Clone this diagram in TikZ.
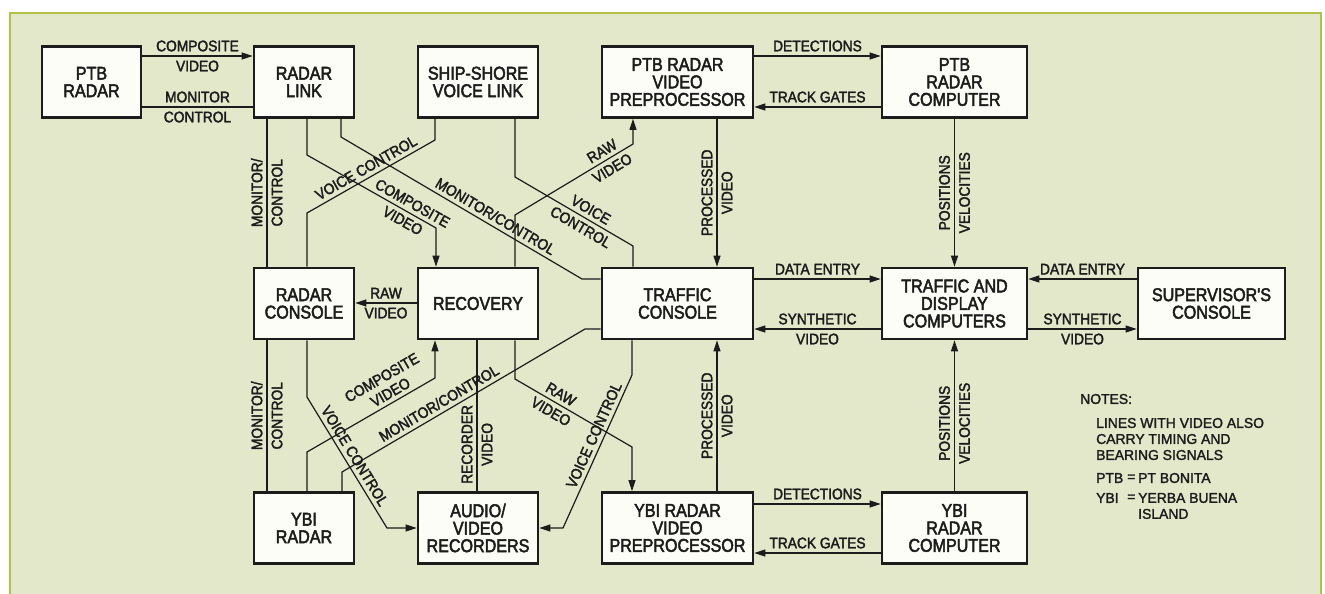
\documentclass[tikz,border=0pt]{standalone}
\usepackage{fontspec}
\usetikzlibrary{arrows.meta}
\newfontfamily\bxfam{Liberation Sans}[FakeStretch=0.87,FakeBold=2.6]
\newfontfamily\lbfam{Liberation Sans}[FakeStretch=0.9,FakeBold=2.2]
\newfontfamily\ntfam{Liberation Sans}[FakeStretch=0.98,FakeBold=1.8]
\newcommand\bxf{\bxfam\fontsize{18.5pt}{17.5pt}\selectfont}
\newcommand\lbf{\lbfam\fontsize{15.3pt}{17pt}\selectfont}
\newcommand\ntf{\ntfam\fontsize{14.2pt}{16pt}\selectfont}
\definecolor{bgc}{RGB}{228,232,202}
\definecolor{framec}{RGB}{178,192,72}
\definecolor{boxc}{RGB}{253,253,247}
\definecolor{inkc}{RGB}{28,28,28}
\tikzset{
  box/.style={draw=inkc, line width=2.6pt, fill=boxc, font=\bxf, text=inkc, align=center, inner sep=0pt, minimum height=71pt},
  lbl/.style={font=\lbf, text=inkc, inner sep=4pt},
  conn/.style={draw=inkc, line width=1.2pt},
  arr/.style={conn, -{Triangle[length=11pt,width=7pt]}},
  vl/.style={lbl, rotate=90, anchor=south},
  vr/.style={lbl, rotate=90, anchor=north},
  note/.style={font=\ntf, text=inkc, inner sep=0pt, anchor=west, align=left},
}
\begin{document}
\begin{tikzpicture}[x=1pt,y=-1pt]
\useasboundingbox (0,0) rectangle (1325,594);
\fill[white] (0,0) rectangle (1325,594);
\draw[framec, line width=2.2pt, fill=bgc] (10,13) rectangle (1321,610);

% boxes
\node[box, minimum width=99pt]  (ptbr) at (91.5,82)   {PTB\\RADAR};
\node[box, minimum width=100pt] (rlink) at (304,82)   {RADAR\\LINK};
\node[box, minimum width=120pt] (ssvl) at (478,82)    {SHIP-SHORE\\VOICE LINK};
\node[box, minimum width=151pt] (ptbp) at (677.5,82)  {PTB RADAR\\VIDEO\\PREPROCESSOR};
\node[box, minimum width=145pt] (ptbc) at (954.5,82)  {PTB\\RADAR\\COMPUTER};
\node[box, minimum width=100pt] (rcon) at (304,303.5) {RADAR\\CONSOLE};
\node[box, minimum width=120pt] (rec) at (478,303.5)  {RECOVERY};
\node[box, minimum width=151pt] (tcon) at (677.5,303.5) {TRAFFIC\\CONSOLE};
\node[box, minimum width=145pt] (tdc) at (954.5,303.5) {TRAFFIC AND\\DISPLAY\\COMPUTERS};
\node[box, minimum width=147pt] (sup) at (1211.5,303.5) {SUPERVISOR'S\\CONSOLE};
\node[box, minimum width=100pt] (ybir) at (304,528)   {YBI\\RADAR};
\node[box, minimum width=120pt] (avr) at (478,528)    {AUDIO/\\VIDEO\\RECORDERS};
\node[box, minimum width=151pt] (ybip) at (677.5,528) {YBI RADAR\\VIDEO\\PREPROCESSOR};
\node[box, minimum width=145pt] (ybic) at (954.5,528) {YBI\\RADAR\\COMPUTER};

% upper connectors
\draw[arr] (ptbr.east |- 0,56) -- node[lbl,above]{COMPOSITE} node[lbl,below]{VIDEO} (rlink.west |- 0,56);
\draw[conn] (ptbr.east |- 0,107) -- node[lbl,above]{MONITOR} node[lbl,below]{CONTROL} (rlink.west |- 0,107);
\draw[conn] (267,0 |- rlink.south) -- node[vl]{MONITOR/} node[vr]{CONTROL} (267,0 |- rcon.north);
\draw[arr] (307,0 |- rlink.south) -- (307,155) -- node[lbl,sloped,pos=.78,above]{COMPOSITE} node[lbl,sloped,pos=.78,below]{VIDEO} (436,228) -- (436,0 |- rec.north);
\draw[conn] (341,0 |- rlink.south) -- (341,137) -- node[lbl,sloped,pos=.62,above]{MONITOR/CONTROL} (582,279) -- (tcon.west |- 0,279);
\draw[conn] (435,0 |- ssvl.south) -- (435,140) -- node[lbl,sloped,above]{VOICE CONTROL} (307,213) -- (307,0 |- rcon.north);
\draw[conn] (515,0 |- ssvl.south) -- (515,177) -- node[lbl,sloped,pos=.6,above]{VOICE} node[lbl,sloped,pos=.6,below]{CONTROL} (633,246) -- (633,0 |- tcon.north);
\draw[arr] (515,0 |- rec.north) -- (515,215) -- node[lbl,sloped,pos=.78,above]{RAW} node[lbl,sloped,pos=.78,below]{VIDEO} (633,144) -- (633,0 |- ptbp.south);
\draw[arr] (717,0 |- ptbp.south) -- node[vl]{PROCESSED} node[vr]{VIDEO} (717,0 |- tcon.north);
\draw[arr] (ptbp.east |- 0,56) -- node[lbl,above]{DETECTIONS} (ptbc.west |- 0,56);
\draw[arr] (ptbc.west |- 0,107) -- node[lbl,above]{TRACK GATES} (ptbp.east |- 0,107);
\draw[arr] (ptbc.south) -- node[vl]{POSITIONS} node[vr]{VELOCITIES} (tdc.north);

% middle connectors
\draw[arr] (rec.west |- 0,303) -- node[lbl,above]{RAW} node[lbl,below]{VIDEO} (rcon.east |- 0,303);
\draw[arr] (tcon.east |- 0,279) -- node[lbl,above]{DATA ENTRY} (tdc.west |- 0,279);
\draw[arr] (tdc.west |- 0,329) -- node[lbl,above]{SYNTHETIC} node[lbl,below]{VIDEO} (tcon.east |- 0,329);
\draw[arr] (sup.west |- 0,279) -- node[lbl,above]{DATA ENTRY} (tdc.east |- 0,279);
\draw[arr] (tdc.east |- 0,329) -- node[lbl,above]{SYNTHETIC} node[lbl,below]{VIDEO} (sup.west |- 0,329);

% lower connectors
\draw[conn] (267,0 |- rcon.south) -- node[vl]{MONITOR/} node[vr]{CONTROL} (267,0 |- ybir.north);
\draw[arr] (307,0 |- ybir.north) -- (307,452) -- node[lbl,sloped,pos=.69,above,align=center]{COMPOSITE\\VIDEO} (435,378) -- (435,0 |- rec.south);
\draw[conn] (342,0 |- ybir.north) -- (342,472) -- node[lbl,sloped,pos=.42,above]{MONITOR/CONTROL} (585,329) -- (tcon.west |- 0,329);
\draw[arr] (307,0 |- rcon.south) -- (307,397) -- node[lbl,sloped,pos=.49,above]{VOICE CONTROL} (387,528) -- (avr.west |- 0,528);
\draw[conn] (477,0 |- rec.south) -- node[vl,pos=.69]{RECORDER} node[vr,pos=.69]{VIDEO} (477,0 |- avr.north);
\draw[arr] (515,0 |- rec.south) -- (515,379) -- node[lbl,sloped,pos=.35,above]{RAW} node[lbl,sloped,pos=.35,below]{VIDEO} (632,447) -- (632,0 |- ybip.north);
\draw[arr] (632,0 |- tcon.south) -- (632,375) -- node[lbl,sloped,pos=.42,above]{VOICE CONTROL} (563,528) -- (avr.east |- 0,528);
\draw[arr] (717,0 |- ybip.north) -- node[vl]{PROCESSED} node[vr]{VIDEO} (717,0 |- tcon.south);
\draw[arr] (ybip.east |- 0,504) -- node[lbl,above]{DETECTIONS} (ybic.west |- 0,504);
\draw[arr] (ybic.west |- 0,553) -- node[lbl,above]{TRACK GATES} (ybip.east |- 0,553);
\draw[arr] (ybic.north) -- node[vl,pos=.45]{POSITIONS} node[vr,pos=.45]{VELOCITIES} (tdc.south);

% notes
\node[note] (n1) at (1080,399) {NOTES:};
\node[note] (n2) at (1096,439) {LINES WITH VIDEO ALSO\\CARRY TIMING AND\\BEARING SIGNALS};
\node[note] (n3) at (1096,478) {PTB};
\node[note] (n4) at (1127,478) {=};
\node[note] (n5) at (1138,478) {PT BONITA};
\node[note] (n6) at (1096,498) {YBI};
\node[note] (n7) at (1127,498) {=};
\node[note] (n8) at (1138,506) {YERBA BUENA\\ISLAND};
\end{tikzpicture}
\end{document}
